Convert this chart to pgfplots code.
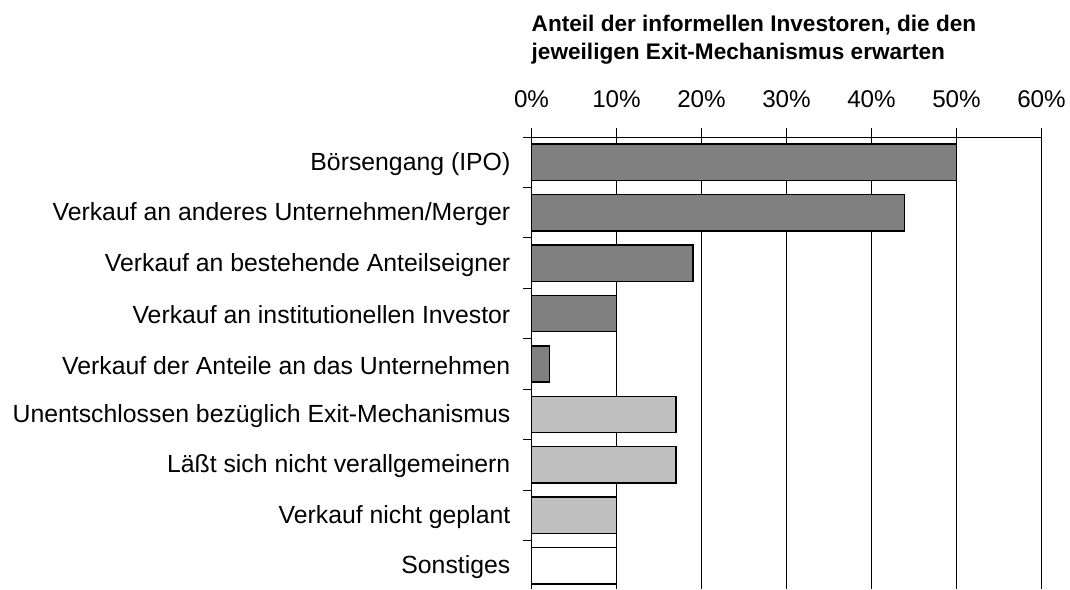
\documentclass[border=0pt]{standalone}
\usepackage{pgfplots}
\pgfplotsset{compat=1.18}
\usepackage{fontspec}
\setmainfont{Liberation Sans}
\definecolor{darkbar}{HTML}{808080}
\definecolor{lightbar}{HTML}{C0C0C0}
\begin{document}
\begin{tikzpicture}
\useasboundingbox (0,0) rectangle (1070pt,589pt);
\node[anchor=base west,inner sep=0pt,font=\fontsize{22.6}{28}\selectfont\bfseries] at (531.5pt,557pt) {Anteil der informellen Investoren, die den};
\node[anchor=base west,inner sep=0pt,font=\fontsize{22.6}{28}\selectfont\bfseries] at (531.5pt,529pt) {jeweiligen Exit-Mechanismus erwarten};
\begin{axis}[
  at={(531.5pt,452pt)}, anchor=north west,
  scale only axis, width=510pt, height=452pt,
  xmin=0, xmax=60, ymin=-0.5, ymax=8.46,
  y dir=reverse,
  axis x line=top, axis y line=left,
  axis line style={-, line width=1pt},
  xtick={0,10,...,60},
  xticklabel={\pgfmathprintnumber{\tick}\%},
  /pgf/number format/assume math mode=true,
  xmajorgrids, major grid style={line width=1pt, black},
  tick align=outside,
  tick style={line width=1pt, black},
  ytick={-0.5,0.5,...,7.5},
  yticklabel=\empty,
  major tick length=8.5pt,
  extra y ticks={0,...,8},
  extra y tick labels={Börsengang (IPO),Verkauf an anderes Unternehmen/Merger,Verkauf an bestehende Anteilseigner,Verkauf an institutionellen Investor,Verkauf der Anteile an das Unternehmen,Unentschlossen bezüglich Exit-Mechanismus,Läßt sich nicht verallgemeinern,Verkauf nicht geplant,Sonstiges},
  extra y tick style={major tick length=0pt, tick style={draw=none}, yticklabel style={anchor=east, inner sep=0pt, xshift=-21pt, yshift=-1.5pt, font=\fontsize{24.8}{28}\selectfont}},
  tick label style={font=\fontsize{24.2}{28}\selectfont},
  xticklabel style={anchor=base, inner sep=0pt, yshift=21pt},
  xbar, bar width=0.72, bar shift=0pt,
  clip=false,
]
\addplot[fill=darkbar, draw=black, line width=1.5pt] coordinates {(50,0) (43.9,1) (19,2) (10,3) (2.1,4)};
\addplot[fill=lightbar, draw=black, line width=1.5pt] coordinates {(17,5) (17,6) (10,7)};
\addplot[fill=white, draw=black, line width=1.5pt] coordinates {(10,8)};
\end{axis}
\end{tikzpicture}
\end{document}
